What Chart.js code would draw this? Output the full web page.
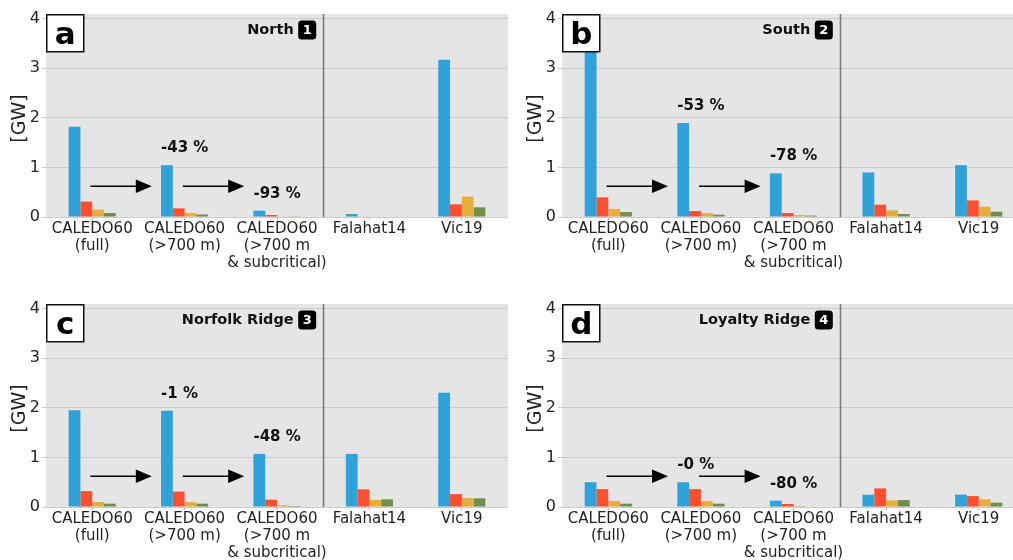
<!DOCTYPE html>
<html>
<head>
<meta charset="utf-8">
<title>Energy conversion by region</title>
<script src="https://cdn.jsdelivr.net/npm/chart.js@4.4.1/dist/chart.umd.min.js"></script>
<style>
  html, body { margin: 0; padding: 0; background: #fff; width: 1013px; height: 560px; overflow: hidden; }
  .panel { position: absolute; }
  canvas { display: block; }
</style>
</head>
<body>
<div class="panel" style="left:0px; top:0px;"><canvas id="panelA" width="520" height="290"></canvas></div>
<div class="panel" style="left:500px; top:0px;"><canvas id="panelB" width="540" height="290"></canvas></div>
<div class="panel" style="left:0px; top:290px;"><canvas id="panelC" width="520" height="270"></canvas></div>
<div class="panel" style="left:500px; top:290px;"><canvas id="panelD" width="540" height="270"></canvas></div>
<script>
// ---- data (GW) ----
const categories = [
  ['CALEDO60', '(full)'],
  ['CALEDO60', '(>700 m)'],
  ['CALEDO60', '(>700 m', '& subcritical)'],
  'Falahat14',
  'Vic19'
];
const yTicks = [0, 1, 2, 3, 4];

// North
const north1 = [1.82, 1.045, 0.127, 0.06, 3.17];
const north2 = [0.31, 0.175, 0.04, 0.012, 0.255];
const north3 = [0.15, 0.08, 0.012, 0.01, 0.41];
const north4 = [0.08, 0.05, 0.006, 0.0, 0.195];
const northChange = ['-43 %', '-93 %'];

// South
const south1 = [3.92, 1.895, 0.878, 0.898, 1.045];
const south2 = [0.395, 0.12, 0.08, 0.248, 0.335];
const south3 = [0.16, 0.08, 0.04, 0.134, 0.208];
const south4 = [0.10, 0.047, 0.027, 0.06, 0.107];
const southChange = ['-53 %', '-78 %'];

// Norfolk Ridge
const norfolk1 = [1.95, 1.94, 1.07, 1.07, 2.30];
const norfolk2 = [0.32, 0.31, 0.147, 0.355, 0.26];
const norfolk3 = [0.10, 0.10, 0.035, 0.14, 0.18];
const norfolk4 = [0.067, 0.067, 0.02, 0.154, 0.175];
const norfolkChange = ['-1 %', '-48 %'];

// Loyalty Ridge
const loyalty1 = [0.50, 0.50, 0.127, 0.248, 0.248];
const loyalty2 = [0.36, 0.36, 0.06, 0.375, 0.22];
const loyalty3 = [0.12, 0.12, 0.02, 0.134, 0.154];
const loyalty4 = [0.067, 0.067, 0.01, 0.14, 0.087];
const loyaltyChange = ['-0 %', '-80 %'];

// ---- styling ----
const COLORS = ['#30a2da', '#fc4f30', '#e5ae38', '#6d904f'];
const FONT = 'DejaVu Sans';
const TEXT = '#222222';
Chart.defaults.font.family = FONT;

// decorations drawn on each panel
const panelDecor = {
  id: 'panelDecor',
  beforeDraw(chart) {
    const a = chart.chartArea, ctx = chart.ctx;
    ctx.save();
    ctx.fillStyle = '#e5e5e5';
    ctx.fillRect(a.left, a.top, a.right - a.left, a.bottom - a.top);
    ctx.restore();
  },
  afterDatasetsDraw(chart) {
    const a = chart.chartArea, ctx = chart.ctx, xs = chart.scales.x;
    // separator between CALEDO60 variants and the literature estimates
    const sx = Math.round(xs.getPixelForValue(2.5)) + 0.5;
    ctx.save();
    ctx.strokeStyle = '#7a7a7a';
    ctx.lineWidth = 1.6;
    ctx.beginPath();
    ctx.moveTo(sx, a.top);
    ctx.lineTo(sx, a.bottom);
    ctx.stroke();
    ctx.restore();
  },
  afterDraw(chart, args, opts) {
    const a = chart.chartArea, ctx = chart.ctx, xs = chart.scales.x, ys = chart.scales.y;
    ctx.save();

    // y axis title
    ctx.save();
    ctx.translate(a.left - 25.5, (a.top + a.bottom) / 2 + 3);
    ctx.rotate(-Math.PI / 2);
    ctx.fillStyle = TEXT;
    ctx.font = '19px "' + FONT + '"';
    ctx.textAlign = 'center';
    ctx.textBaseline = 'middle';
    ctx.fillText('[GW]', 0, 0);
    ctx.restore();

    // panel letter
    const bx = a.left + 0.75, by = a.top + 0.75, bs = 37;
    ctx.fillStyle = '#ffffff';
    ctx.fillRect(bx, by, bs, bs);
    ctx.strokeStyle = '#111';
    ctx.lineWidth = 1.5;
    ctx.strokeRect(bx, by, bs, bs);
    ctx.fillStyle = '#000';
    ctx.font = 'bold 31px "' + FONT + '"';
    ctx.textAlign = 'center';
    ctx.textBaseline = 'alphabetic';
    ctx.fillText(opts.letter, bx + bs / 2, a.top + 29.5);

    // region name with numbered badge
    const sep = xs.getPixelForValue(2.5);
    const badgeR = sep - 7, badgeW = 18, badgeH = 19, badgeT = a.top + 6.5;
    ctx.fillStyle = '#000';
    ctx.beginPath();
    ctx.roundRect(badgeR - badgeW, badgeT, badgeW, badgeH, 3.5);
    ctx.fill();
    ctx.fillStyle = '#fff';
    ctx.font = 'bold 13px "' + FONT + '"';
    ctx.textAlign = 'center';
    ctx.textBaseline = 'middle';
    ctx.fillText(opts.number, badgeR - badgeW / 2, badgeT + badgeH / 2 + 0.5);
    ctx.fillStyle = '#111';
    ctx.font = 'bold 14.5px "' + FONT + '"';
    ctx.textAlign = 'right';
    ctx.fillText(opts.region, badgeR - badgeW - 4.5, badgeT + badgeH / 2 + 0.5);

    // arrows between the CALEDO60 variants
    const ay = ys.getPixelForValue(0.62);
    ctx.strokeStyle = '#000';
    ctx.fillStyle = '#000';
    ctx.lineWidth = 1.5;
    [0, 1].forEach(i => {
      const x0 = xs.getPixelForValue(i - 0.02);
      const x1 = xs.getPixelForValue(i + 0.645);
      const head = 16, half = 6.8;
      ctx.beginPath();
      ctx.moveTo(x0, ay);
      ctx.lineTo(x1 - head + 1, ay);
      ctx.stroke();
      ctx.beginPath();
      ctx.moveTo(x1, ay);
      ctx.lineTo(x1 - head, ay - half);
      ctx.lineTo(x1 - head, ay + half);
      ctx.closePath();
      ctx.fill();
    });

    // relative change labels above the reduced variants
    const meta = chart.getDatasetMeta(0);
    ctx.fillStyle = '#111';
    ctx.font = 'bold 15px "' + FONT + '"';
    ctx.textAlign = 'left';
    ctx.textBaseline = 'middle';
    opts.changes.forEach((label, k) => {
      const bar = meta.data[k + 1];
      ctx.fillText(label, bar.x - bar.width / 2, bar.y - 17);
    });

    ctx.restore();
  }
};

function makePanel(id, series, deco, axisWidth, padRight, axisHeight) {
  return new Chart(document.getElementById(id), {
    type: 'bar',
    data: {
      labels: categories,
      datasets: series.map((vals, i) => ({
        data: vals,
        backgroundColor: COLORS[i],
        borderWidth: 0,
        categoryPercentage: 0.51,
        barPercentage: 1.0
      }))
    },
    options: {
      responsive: false,
      animation: false,
      devicePixelRatio: 1,
      layout: { padding: { left: 0, top: 14, right: padRight, bottom: 0 } },
      plugins: {
        legend: { display: false },
        tooltip: { enabled: false },
        panelDecor: deco
      },
      scales: {
        x: {
          offset: true,
          grid: { display: true, drawOnChartArea: false, drawTicks: true, tickLength: 3, color: '#b5b5b5', offset: false },
          border: { display: false },
          ticks: {
            autoSkip: false, maxRotation: 0, minRotation: 0, padding: 0,
            color: TEXT,
            font: { family: FONT, size: 15, lineHeight: 1.15 }
          },
          afterFit(scale) { scale.height = axisHeight; }
        },
        y: {
          min: 0,
          max: 4.09,
          afterBuildTicks(scale) { scale.ticks = yTicks.map(v => ({ value: v })); },
          grid: { color: '#cbcbcb', lineWidth: 1, tickLength: 4 },
          border: { display: false },
          ticks: { padding: 2, color: TEXT, font: { family: FONT, size: 16 } },
          afterFit(scale) { scale.width = axisWidth; }
        }
      }
    },
    plugins: [panelDecor]
  });
}

makePanel('panelA', [north1, north2, north3, north4],
  { letter: 'a', number: '1', region: 'North', changes: northChange }, 46, 12, 73);
makePanel('panelB', [south1, south2, south3, south4],
  { letter: 'b', number: '2', region: 'South', changes: southChange }, 62, 15, 73);
makePanel('panelC', [norfolk1, norfolk2, norfolk3, norfolk4],
  { letter: 'c', number: '3', region: 'Norfolk Ridge', changes: norfolkChange }, 46, 12, 53);
makePanel('panelD', [loyalty1, loyalty2, loyalty3, loyalty4],
  { letter: 'd', number: '4', region: 'Loyalty Ridge', changes: loyaltyChange }, 62, 15, 53);
</script>
</body>
</html>
